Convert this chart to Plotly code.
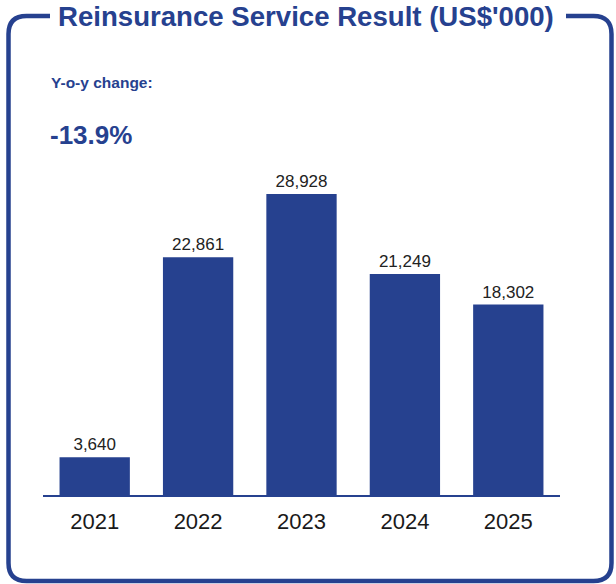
import plotly.graph_objects as go

# Reinsurance service result by year (US$'000)
years = ["2021", "2022", "2023", "2024", "2025"]
results = [3640, 22861, 28928, 21249, 18302]
value_labels = ["3,640", "22,861", "28,928", "21,249", "18,302"]

title_text = "Reinsurance Service Result (US$'000)"
yoy_label = "Y-o-y change:"
yoy_value = "-13.9%"

W, H = 616, 584
BLUE = "#26418f"
FONT = "Liberation Sans, Arial, Helvetica, sans-serif"


def px(x):
    return x / W


def py(y):
    return 1 - y / H


fig = go.Figure(
    go.Bar(
        x=years,
        y=results,
        text=value_labels,
        textposition="outside",
        textfont=dict(size=17, color="#222222", family=FONT),
        cliponaxis=False,
        marker=dict(color=BLUE, line=dict(width=0)),
        hoverinfo="skip",
    )
)

# Rounded frame with an open gap in the top edge for the heading
left, right, top, bottom, r = 8.5, 611.5, 16, 581, 18


def pt(x, y):
    return f"{px(x):.5f},{py(y):.5f}"


frame_path = (
    f"M {pt(50, top)} L {pt(left + r, top)} Q {pt(left, top)} {pt(left, top + r)} "
    f"L {pt(left, bottom - r)} Q {pt(left, bottom)} {pt(left + r, bottom)} "
    f"L {pt(right - r, bottom)} Q {pt(right, bottom)} {pt(right, bottom - r)} "
    f"L {pt(right, top + r)} Q {pt(right, top)} {pt(right - r, top)} "
    f"L {pt(566, top)}"
)

fig.add_shape(
    type="path",
    path=frame_path,
    xref="paper",
    yref="paper",
    line=dict(color=BLUE, width=4.5),
    layer="above",
)

fig.add_annotation(
    text=f"<b>{title_text}</b>",
    xref="paper", yref="paper",
    x=px(305.5), y=py(17),
    xanchor="center", yanchor="middle",
    showarrow=False,
    font=dict(size=27.6, color=BLUE, family=FONT),
)
fig.add_annotation(
    text=f"<b>{yoy_label}</b>",
    xref="paper", yref="paper",
    x=px(49), y=py(82),
    xanchor="left", yanchor="middle",
    showarrow=False,
    font=dict(size=15.5, color=BLUE, family=FONT),
)
fig.add_annotation(
    text=f"<b>{yoy_value}</b>",
    xref="paper", yref="paper",
    x=px(48), y=py(135),
    xanchor="left", yanchor="middle",
    showarrow=False,
    font=dict(size=26, color=BLUE, family=FONT),
)

fig.update_layout(
    width=W,
    height=H,
    margin=dict(l=0, r=0, t=0, b=0),
    paper_bgcolor="white",
    plot_bgcolor="white",
    bargap=0.32,
    showlegend=False,
    font=dict(family=FONT),
    xaxis=dict(
        domain=[px(43), px(560)],
        showline=True,
        linecolor=BLUE,
        linewidth=1.5,
        ticks="",
        ticklabelstandoff=6,
        tickfont=dict(size=22, color="#1a1a1a", family=FONT),
        showgrid=False,
        zeroline=False,
        fixedrange=True,
    ),
    yaxis=dict(
        domain=[py(495), py(150)],
        range=[0, 33157],
        visible=False,
        showgrid=False,
        zeroline=False,
        fixedrange=True,
    ),
)

fig.write_html("out.html")
